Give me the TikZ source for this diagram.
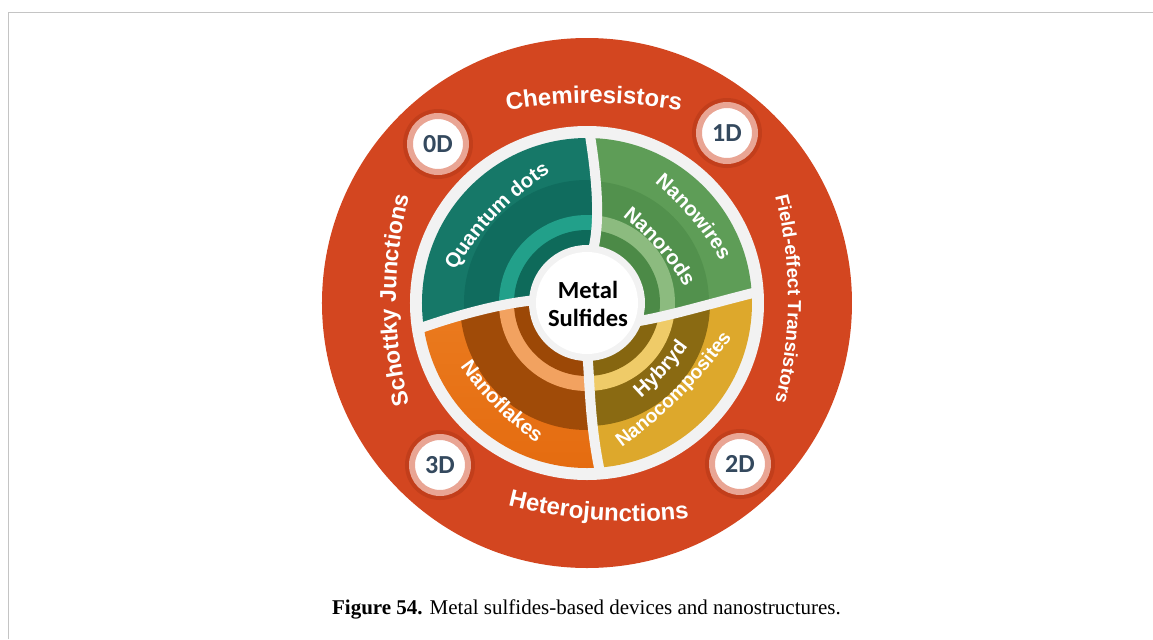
\documentclass[tikz,border=0pt]{standalone}
\usepackage{fontspec}
\setmainfont{Liberation Serif}
\setsansfont{Liberation Sans}
\newfontfamily\calib{Carlito}
\usetikzlibrary{decorations.text,calc}
\definecolor{redA}{HTML}{C03A16}
\definecolor{redB}{HTML}{E0562C}
\definecolor{redC}{HTML}{D34620}
\definecolor{gapc}{HTML}{F2F2F2}
\definecolor{framec}{HTML}{C4C4C4}
\definecolor{tealA}{HTML}{167868}
\definecolor{tealB}{HTML}{106C5E}
\definecolor{tealC}{HTML}{22A08A}
\definecolor{tealD}{HTML}{0E6A5A}
\definecolor{grnA}{HTML}{5E9D57}
\definecolor{grnB}{HTML}{52914D}
\definecolor{grnC}{HTML}{8CBB7F}
\definecolor{grnD}{HTML}{4C8A47}
\definecolor{yelA}{HTML}{DDA82C}
\definecolor{yelB}{HTML}{8A6A12}
\definecolor{yelC}{HTML}{EFCB68}
\definecolor{yelD}{HTML}{866610}
\definecolor{oraA}{HTML}{F08A2E}
\definecolor{oraE}{HTML}{E56C10}
\definecolor{oraB}{HTML}{A04B08}
\definecolor{oraC}{HTML}{F2A260}
\definecolor{oraD}{HTML}{9C4806}
\definecolor{numc}{HTML}{34495E}
\definecolor{salm}{HTML}{E9A594}
\pgfdeclareradialshading{redring}{\pgfpoint{0bp}{0bp}}{color(0bp)=(redC); color(34bp)=(redC); color(40bp)=(redB); color(50bp)=(redA)}
\newcommand\rf{\sffamily\bfseries\fontsize{12}{14}\selectfont}
\newcommand\rfm{\sffamily\bfseries\fontsize{11.4}{13}\selectfont}
\newcommand\rfs{\sffamily\bfseries\fontsize{9.4}{11}\selectfont}
\newcommand\sgf{\sffamily\bfseries\fontsize{10.2}{12}\selectfont}
\newcommand\sgs{\sffamily\bfseries\fontsize{9.7}{12}\selectfont}
% outward text: baseline mid (x,y), up angle, radius, half-angle, text
\newcommand\outtext[6]{\path[decorate,decoration={text along path,text align=center,text color=white,text={#6}}]
 ($(#1,#2)+(#3+180:#4)+(#3+#5:#4)$) arc[start angle=#3+#5,end angle=#3-#5,radius=#4];}
% inward text: baseline mid (x,y), up angle, radius, half-angle, text
\newcommand\intext[6]{\path[decorate,decoration={text along path,text align=center,text color=white,text={#6}}]
 ($(#1,#2)+(#3:#4)+(#3+180-#5:#4)$) arc[start angle=#3+180-#5,end angle=#3+180+#5,radius=#4];}
\tikzset{
 gap/.style={draw=gapc,line width=5pt},
 numnode/.style={circle,fill=white,draw=salm,line width=3pt,minimum size=28pt,inner sep=0pt,
   font=\calib\bfseries\fontsize{13}{15}\selectfont,text=numc},
 halo/.style={fill=redA!85!black,opacity=0.35},
}
\begin{document}
\begin{tikzpicture}[x=0.5pt,y=0.5pt]
\useasboundingbox (-587,303) rectangle (566,-336);
% frame
\draw[framec,line width=0.75pt] (-578.5,-336) -- (-578.5,290.5) -- (566,290.5);
% red ring
\shade[shading=redring] (0,0) circle (265);
% white ring
\fill[gapc] (0,0) circle (177);
% divider geometry
\coordinate (TO) at (2,174); \coordinate (TC1) at (10,125); \coordinate (TC2) at (14,80); \coordinate (TI) at (5,49);
\coordinate (RO) at (174,12); \coordinate (RC1) at (125,0); \coordinate (RC2) at (80,-14); \coordinate (RI) at (46,-19);
\coordinate (BO) at (14,-174); \coordinate (BC1) at (2,-120); \coordinate (BC2) at (3,-75); \coordinate (BI) at (0,-48);
\coordinate (LO) at (-172,-27); \coordinate (LC1) at (-130,-12); \coordinate (LC2) at (-85,0); \coordinate (LI) at (-50,3);
% teal segment
\begin{scope}
\clip (0,0) -- (TI) .. controls (TC2) and (TC1) .. (TO) -- (2,300) -- (-300,300) -- (-300,-27) -- (LO) .. controls (LC1) and (LC2) .. (LI) -- cycle;
\fill[tealA] (0,0) circle (165); \fill[tealB] (0,0) circle (123); \fill[tealC] (0,0) circle (88); \fill[tealD] (0,0) circle (73);
\end{scope}
% green segment
\begin{scope}
\clip (0,0) -- (TI) .. controls (TC2) and (TC1) .. (TO) -- (2,300) -- (300,300) -- (300,12) -- (RO) .. controls (RC1) and (RC2) .. (RI) -- cycle;
\fill[grnA] (0,0) circle (165); \fill[grnB] (0,0) circle (122); \fill[grnC] (0,0) circle (88); \fill[grnD] (0,0) circle (73);
\end{scope}
% yellow segment
\begin{scope}
\clip (0,0) -- (RI) .. controls (RC2) and (RC1) .. (RO) -- (300,12) -- (300,-300) -- (14,-300) -- (BO) .. controls (BC1) and (BC2) .. (BI) -- cycle;
\fill[yelA] (0,0) circle (165); \fill[yelB] (0,0) circle (123); \fill[yelC] (0,0) circle (88); \fill[yelD] (0,0) circle (73);
\end{scope}
% orange segment
\begin{scope}
\clip (0,0) -- (BI) .. controls (BC2) and (BC1) .. (BO) -- (14,-300) -- (-300,-300) -- (-300,-27) -- (LO) .. controls (LC1) and (LC2) .. (LI) -- cycle;
\shade[top color=oraA,bottom color=oraE] (0,0) circle (165);
\fill[oraB] (0,0) circle (127); \fill[oraC] (0,0) circle (88); \fill[oraD] (0,0) circle (73);
\end{scope}
% dividers
\draw[gap] (TO) .. controls (TC1) and (TC2) .. (TI);
\draw[gap] (RO) .. controls (RC1) and (RC2) .. (RI);
\draw[gap] (BO) .. controls (BC1) and (BC2) .. (BI);
\draw[gap] (LO) .. controls (LC1) and (LC2) .. (LI);
% centre
\fill[gapc] (0,0) circle (58);
\fill[white] (0,0) circle (51);
\node[align=center,font=\calib\bfseries\fontsize{12.3}{14}\selectfont] (ms) at (1,-1) {Metal\\Sulfides};
% number badges
\fill[halo] (-149,159) circle (35); \node[numnode] (n0) at (-149,159) {0D};
\fill[halo] (140,170) circle (35); \node[numnode] (n1) at (140,170) {1D};
\fill[halo] (153,-161) circle (35); \node[numnode] (n2) at (153,-161) {2D};
\fill[halo] (-147,-162) circle (35); \node[numnode] (n3) at (-147,-162) {3D};
% ring texts
\outtext{7}{200}{90}{500}{14}{|\rf|Chemiresistors}
\outtext{201}{4}{0}{420}{20}{|\rfs|Field-effect Transistors}
\intext{11}{-217}{86}{500}{14}{|\rf|Heterojunctions}
\outtext{-191}{3}{180}{420}{18}{|\rfm|Schottky Junctions}
% segment texts
\outtext{-90}{87}{136}{300}{20}{|\sgf|Quantum dots}
\outtext{104}{84}{40}{300}{16}{|\sgf|Nanowires}
\outtext{70}{54}{41}{250}{18}{|\sgf|Nanorods}
\intext{94}{-94}{135}{520}{14}{|\sgs|Nanocomposites}
\intext{79}{-71}{138}{300}{12}{|\sgf|Hybryd}
\intext{-92}{-105}{45}{300}{16}{|\sgf|Nanoflakes}
% caption
\node[anchor=base,font=\fontsize{10.5}{12}\selectfont] (cap) at (-0.5,-311) {\textbf{Figure 54.} Metal sulfides-based devices and nanostructures.};
\end{tikzpicture}
\end{document}
